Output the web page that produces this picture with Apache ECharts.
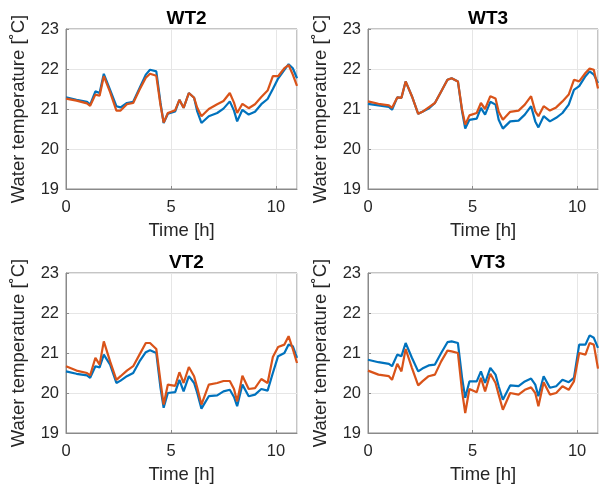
<!DOCTYPE html>
<html>
<head>
<meta charset="utf-8">
<script src="https://cdn.jsdelivr.net/npm/echarts@6/dist/echarts.min.js"></script>
<style>
html,body{margin:0;padding:0;background:#fff;}
#c{width:602px;height:489px;}
</style>
</head>
<body>
<div id="c"></div>
<script>
const panelTitles = ['WT2', 'WT3', 'VT2', 'VT3'];
const xTicks = [0, 5, 10];
const yTicks = [19, 20, 21, 22, 23];
const timeH = [0, 0.5, 1.0, 1.15, 1.4, 1.6, 1.8, 2.1, 2.4, 2.6, 2.9, 3.2, 3.5, 3.8, 4.0, 4.3, 4.5, 4.65, 4.85, 5.2, 5.4, 5.6, 5.85, 6.1, 6.25, 6.45, 6.8, 7.2, 7.5, 7.8, 8.0, 8.15, 8.4, 8.7, 9.0, 9.3, 9.6, 9.85, 10.1, 10.4, 10.6, 10.8, 11.0];

const wt2Blue   = [21.29, 21.23, 21.18, 21.11, 21.44, 21.40, 21.88, 21.48, 21.07, 21.04, 21.15, 21.18, 21.52, 21.86, 21.98, 21.94, 21.15, 20.65, 20.88, 20.94, 21.23, 21.03, 21.40, 21.28, 20.94, 20.65, 20.82, 20.90, 21.01, 21.19, 20.96, 20.69, 20.98, 20.86, 20.93, 21.12, 21.25, 21.50, 21.76, 21.98, 22.12, 22.02, 21.77];
const wt2Orange = [21.26, 21.21, 21.14, 21.08, 21.36, 21.33, 21.82, 21.42, 20.96, 20.96, 21.12, 21.15, 21.48, 21.78, 21.88, 21.83, 21.10, 20.66, 20.90, 20.97, 21.23, 21.03, 21.40, 21.28, 21.03, 20.82, 21.00, 21.12, 21.20, 21.40, 21.16, 20.90, 21.13, 21.02, 21.12, 21.30, 21.46, 21.82, 21.82, 22.02, 22.10, 21.86, 21.58];

const wt3Blue   = [21.13, 21.09, 21.05, 20.98, 21.29, 21.28, 21.69, 21.32, 20.88, 20.93, 21.01, 21.15, 21.44, 21.73, 21.77, 21.69, 20.94, 20.51, 20.73, 20.76, 21.03, 20.86, 21.18, 21.11, 20.73, 20.51, 20.69, 20.71, 20.86, 21.07, 20.69, 20.54, 20.82, 20.69, 20.78, 20.90, 21.11, 21.48, 21.57, 21.82, 21.94, 21.86, 21.65];
const wt3Orange = [21.19, 21.13, 21.09, 21.03, 21.29, 21.28, 21.69, 21.32, 20.88, 20.93, 21.04, 21.15, 21.44, 21.73, 21.77, 21.69, 20.98, 20.61, 20.84, 20.90, 21.15, 21.00, 21.32, 21.26, 20.93, 20.73, 20.93, 20.96, 21.11, 21.32, 20.94, 20.82, 21.07, 20.96, 21.04, 21.19, 21.36, 21.73, 21.69, 21.90, 22.01, 21.98, 21.51];

const vt2Blue   = [20.54, 20.48, 20.44, 20.38, 20.67, 20.64, 20.96, 20.71, 20.25, 20.31, 20.42, 20.50, 20.79, 21.02, 21.07, 21.00, 20.13, 19.63, 20.00, 20.02, 20.33, 20.04, 20.42, 20.25, 20.00, 19.61, 19.92, 19.94, 20.04, 20.08, 19.90, 19.67, 20.21, 19.92, 19.96, 20.10, 20.06, 20.50, 20.92, 21.00, 21.21, 21.17, 20.88];
const vt2Orange = [20.67, 20.56, 20.50, 20.44, 20.88, 20.71, 21.29, 20.79, 20.33, 20.42, 20.56, 20.67, 20.96, 21.25, 21.25, 21.10, 20.29, 19.71, 20.21, 20.18, 20.52, 20.25, 20.65, 20.42, 20.13, 19.71, 20.21, 20.25, 20.30, 20.30, 20.10, 19.79, 20.43, 20.10, 20.12, 20.35, 20.25, 20.90, 21.15, 21.21, 21.42, 21.10, 20.75];

const vt3Blue   = [20.83, 20.77, 20.73, 20.67, 20.96, 20.92, 21.25, 20.88, 20.54, 20.61, 20.69, 20.71, 21.00, 21.27, 21.29, 21.25, 20.38, 19.88, 20.29, 20.29, 20.54, 20.25, 20.63, 20.46, 20.17, 19.83, 20.19, 20.17, 20.29, 20.36, 20.21, 19.92, 20.42, 20.13, 20.17, 20.33, 20.27, 20.38, 21.21, 21.21, 21.44, 21.38, 21.13];
const vt3Orange = [20.56, 20.46, 20.42, 20.33, 20.73, 20.54, 21.10, 20.63, 20.19, 20.29, 20.42, 20.46, 20.79, 21.06, 21.04, 21.00, 20.04, 19.50, 20.10, 20.02, 20.38, 20.04, 20.48, 20.25, 19.96, 19.58, 20.00, 19.96, 20.08, 20.14, 20.00, 19.67, 20.27, 19.96, 20.00, 20.17, 20.08, 20.29, 21.00, 20.96, 21.25, 21.21, 20.61];

const panelBlue = [wt2Blue, wt3Blue, vt2Blue, vt3Blue];
const panelOrange = [wt2Orange, wt3Orange, vt2Orange, vt3Orange];

const FONT = 'Liberation Sans, Arial, Helvetica, sans-serif';
const TXT = '#262626';
const BOX = '#8a8a8a';
const grids = [
  {left: 66, top: 29, width: 231, height: 160},
  {left: 368, top: 29, width: 230, height: 160},
  {left: 66, top: 273, width: 231, height: 160},
  {left: 368, top: 273, width: 230, height: 160}
];

const pairs = (xs, ys) => xs.map((x, i) => [x, ys[i]]);

const option = {
  animation: false,
  backgroundColor: '#fff',
  title: grids.map((g, i) => ({
    text: panelTitles[i],
    left: g.left + g.width / 2,
    top: g.top - 25,
    textAlign: 'center',
    textStyle: {fontFamily: FONT, fontWeight: 'bold', fontSize: 19, color: '#000'}
  })),
  grid: grids.map(g => Object.assign({show: true, borderColor: BOX, borderWidth: 1, backgroundColor: 'transparent'}, g)),
  xAxis: grids.map((g, i) => ({
    gridIndex: i, type: 'value', min: 0, max: 11, interval: 5,
    name: 'Time [h]', nameLocation: 'middle', nameGap: 32,
    nameTextStyle: {fontFamily: FONT, fontSize: 18.5, color: TXT},
    axisLine: {show: true, lineStyle: {color: BOX}},
    axisTick: {show: true, inside: true, length: 3, lineStyle: {color: BOX}},
    axisLabel: {fontFamily: FONT, fontSize: 16.5, color: TXT, margin: 10, showMaxLabel: false,
      formatter: v => xTicks.includes(v) ? String(v) : ''},
    splitLine: {show: true, lineStyle: {color: '#e6e6e6', width: 1}}
  })),
  yAxis: grids.map((g, i) => ({
    gridIndex: i, type: 'value', min: yTicks[0], max: yTicks[yTicks.length - 1], interval: 1,
    name: 'Water temperature [˚C]', nameLocation: 'middle', nameGap: 38,
    nameTextStyle: {fontFamily: FONT, fontSize: 18.5, color: TXT},
    axisLine: {show: true, lineStyle: {color: BOX}},
    axisTick: {show: true, inside: true, length: 3, lineStyle: {color: BOX}},
    axisLabel: {fontFamily: FONT, fontSize: 16.5, color: TXT, margin: 7},
    splitLine: {show: true, lineStyle: {color: '#e6e6e6', width: 1}}
  })),
  series: []
};
for (let i = 0; i < 4; i++) {
  option.series.push({
    type: 'line', xAxisIndex: i, yAxisIndex: i, data: pairs(timeH, panelBlue[i]),
    showSymbol: false, lineStyle: {color: '#0072BD', width: 2.2}, itemStyle: {color: '#0072BD'}
  });
  option.series.push({
    type: 'line', xAxisIndex: i, yAxisIndex: i, data: pairs(timeH, panelOrange[i]),
    showSymbol: false, lineStyle: {color: '#D95319', width: 2.2}, itemStyle: {color: '#D95319'}
  });
}
const chart = echarts.init(document.getElementById('c'), null, {renderer: 'canvas'});
chart.setOption(option);
</script>
</body>
</html>
